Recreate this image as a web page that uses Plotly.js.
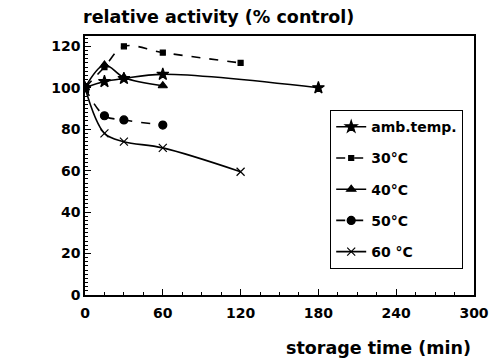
<!DOCTYPE html>
<html>
<head>
<meta charset="utf-8">
<script src="https://cdn.plot.ly/plotly-3.0.1.min.js"></script>
<style>html,body{margin:0;padding:0;background:#fff;}#chart{width:490px;height:359px;}</style>
</head>
<body>
<div id="chart"></div>
<script>
// Data
const seriesNames = ["amb.temp.", "30\u00b0C", "40\u00b0C", "50\u00b0C", "60 \u00b0C"];
const timeAmb = [0, 15, 30, 60, 180];
const actAmb  = [100, 103, 104.5, 106.5, 100];
const time30  = [0, 15, 30, 60, 120];
const act30   = [100, 110, 120, 117, 112];
const time40  = [0, 15, 30, 60];
const act40   = [100, 111, 105, 101];
const time50  = [0, 15, 30, 60];
const act50   = [100, 86.5, 84.5, 82];
const time60  = [0, 15, 30, 60, 120];
const act60   = [100, 78, 74, 71, 59.5];
const xTicks = [0, 60, 120, 180, 240, 300];
const yTicks = [0, 20, 40, 60, 80, 100, 120];

const black = '#000';
const FONT = 'DejaVu Sans, Arial, sans-serif';
function tr(name, x, y, symbol, size, dash, group) {
  return {
    type: 'scatter', mode: 'lines+markers', name: name, x: x, y: y,
    line: {color: black, width: 1.6, shape: 'spline', smoothing: 1, dash: dash},
    marker: {symbol: symbol, size: size, color: black, line: {color: black, width: 1.2}},
    legendgroup: group
  };
}
const data = [
  tr(seriesNames[0], timeAmb, actAmb, 'star', 9, 'solid', 'a'),
  tr(seriesNames[1], time30, act30, 'square', 5, 'dash', 'b'),
  tr(seriesNames[2], time40, act40, 'triangle-up', 8, 'solid', 'c'),
  tr(seriesNames[3], time50, act50, 'circle', 8, 'dash', 'd'),
  tr(seriesNames[4], time60, act60, 'x-thin', 8, 'solid', 'e')
];

const layout = {
  width: 490, height: 359,
  margin: {l: 85, r: 16, t: 36, b: 64},
  paper_bgcolor: '#fff', plot_bgcolor: '#fff',
  font: {family: FONT, size: 14, color: black, weight: 'bold'},
  showlegend: true,
  title: {
    text: 'relative activity (% control)',
    x: 83/490, xanchor: 'left', xref: 'container',
    y: 1 - 17/359, yanchor: 'middle', yref: 'container',
    font: {family: FONT, size: 17.5, weight: 'bold', color: black}
  },
  xaxis: {
    range: [0, 300], tickvals: xTicks, ticktext: xTicks.map(String),
    ticks: 'inside', ticklen: 6, tickwidth: 1.2, tickcolor: black,
    showline: true, linecolor: black, linewidth: 1.6, mirror: true,
    showgrid: false, zeroline: false, ticklabelstandoff: 5,
    tickfont: {family: FONT, size: 14, weight: 'bold'},
    minor: {dtick: 15, tick0: 0, ticks: 'inside', ticklen: 3, tickcolor: black, tickwidth: 1, showgrid: false}
  },
  yaxis: {
    range: [0, 125], tickvals: yTicks, ticktext: yTicks.map(String),
    ticks: 'inside', ticklen: 6, tickwidth: 1.2, tickcolor: black,
    showline: true, linecolor: black, linewidth: 1.6, mirror: true,
    showgrid: false, zeroline: false,
    tickfont: {family: FONT, size: 14, weight: 'bold'},
    minor: {dtick: 2, tick0: 0, ticks: 'inside', ticklen: 3, tickcolor: black, tickwidth: 1, showgrid: false}
  },
  legend: {
    x: (330-85)/389, y: (295-110)/259, xanchor: 'left', yanchor: 'top',
    bordercolor: black, borderwidth: 1.2, bgcolor: '#fff',
    font: {family: FONT, size: 14, weight: 'bold'},
    traceorder: 'grouped', tracegroupgap: 10, itemwidth: 30
  },
  annotations: [{
    text: 'storage time (min)', xref: 'paper', yref: 'paper',
    x: (473-85)/389, xanchor: 'right', y: (295-348)/259, yanchor: 'middle',
    showarrow: false, font: {family: FONT, size: 17.5, weight: 'bold', color: black}
  }]
};

Plotly.newPlot('chart', data, layout, {displayModeBar: false, staticPlot: true});
</script>
</body>
</html>
